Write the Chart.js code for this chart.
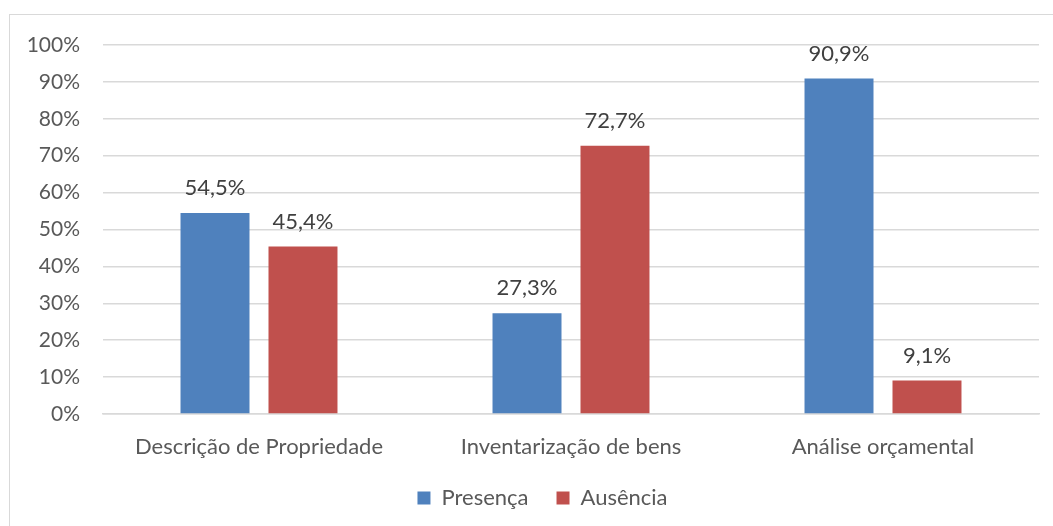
<!DOCTYPE html>
<html>
<head>
<meta charset="utf-8">
<script src="https://cdn.jsdelivr.net/npm/chart.js@4.4.1/dist/chart.umd.min.js"></script>
<style>
  html, body { margin: 0; padding: 0; background: #fff; }
  #wrap { position: relative; width: 1053px; height: 526px; overflow: hidden; }
  #frame { position: absolute; left: 9px; top: 14px; width: 1100px; height: 600px; border: 1.5px solid #D9D9D9; box-sizing: border-box; }
  canvas { position: absolute; left: 0; top: 0; }
</style>
</head>
<body>
<div id="wrap">
  <div id="frame"></div>
  <canvas id="c" width="1053" height="526"></canvas>
</div>
<script>
const categories = ["Descrição de Propriedade", "Inventarização de bens", "Análise orçamental"];
const presenca = [54.5, 27.3, 90.9];
const ausencia = [45.4, 72.7, 9.1];
const yTicks = [0, 10, 20, 30, 40, 50, 60, 70, 80, 90, 100];
const seriesNames = ["Presença", "Ausência"];

const FONT = "Lato, 'Open Sans', sans-serif";

const dataLabels = {
  id: 'dataLabels',
  afterDatasetsDraw(chart) {
    const ctx = chart.ctx;
    ctx.save();
    ctx.font = "22px " + FONT;
    ctx.fillStyle = "#404040";
    ctx.textAlign = "center";
    ctx.textBaseline = "middle";
    chart.data.datasets.forEach((ds, i) => {
      chart.getDatasetMeta(i).data.forEach((bar, j) => {
        const v = ds.data[j];
        ctx.fillText(v.toFixed(1).replace('.', ',') + '%', bar.x, bar.y - 25);
      });
    });
    ctx.restore();
  }
};

const legendShift = {
  id: 'legendShift',
  afterLayout(chart) {
    if (chart.legend) {
      chart.legend.left += 23;
      chart.legend.right += 23;
    }
  }
};

new Chart(document.getElementById('c'), {
  type: 'bar',
  data: {
    labels: categories,
    datasets: [
      { label: seriesNames[0], data: presenca, backgroundColor: '#4F81BD', categoryPercentage: 0.564, barPercentage: 0.784 },
      { label: seriesNames[1], data: ausencia, backgroundColor: '#C0504D', categoryPercentage: 0.564, barPercentage: 0.784 }
    ]
  },
  options: {
    responsive: false,
    animation: false,
    devicePixelRatio: 1,
    layout: { padding: { left: 0, right: 14, top: 45, bottom: 7 } },
    plugins: {
      tooltip: { enabled: false },
      legend: {
        position: 'bottom',
        labels: {
          boxWidth: 13, boxHeight: 13, padding: 28,
          color: '#595959',
          font: { family: FONT, size: 22 }
        }
      }
    },
    scales: {
      x: {
        afterFit(scale) { scale.height = 45; },
        grid: { display: false, drawTicks: false },
        border: { display: true, color: '#D9D9D9', width: 1.5 },
        ticks: { color: '#595959', font: { family: FONT, size: 22 }, padding: 20 }
      },
      y: {
        min: 0, max: 100,
        afterFit(scale) { scale.width = 103; },
        afterBuildTicks(scale) { scale.ticks = yTicks.map(v => ({ value: v })); },
        grid: { color: '#D9D9D9', lineWidth: 1.5, drawTicks: false },
        border: { display: false },
        ticks: {
          color: '#595959',
          font: { family: FONT, size: 21 },
          padding: 23,
          callback: v => v + '%'
        }
      }
    }
  },
  plugins: [dataLabels, legendShift]
});
</script>
</body>
</html>
